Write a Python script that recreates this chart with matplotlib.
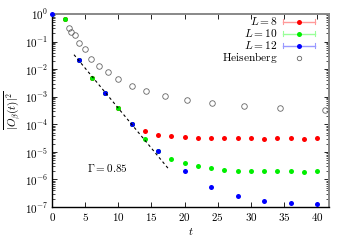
import numpy as np
import matplotlib
matplotlib.use("Agg")
import matplotlib.pyplot as plt

plt.rcParams['mathtext.fontset'] = 'cm'
plt.rcParams['font.family'] = 'serif'
plt.rcParams['font.serif'] = ['DejaVu Serif']

t_even = np.arange(0, 41, 2)
t_four = np.arange(0, 41, 4)

L8 = [1.0, 0.64, 0.021, 4.8e-3, 1.4e-3, 3.8e-4, 1.0e-4, 5.5e-5, 4.0e-5, 3.7e-5,
      3.4e-5, 3.3e-5, 3.3e-5, 3.15e-5, 3.2e-5, 3.2e-5, 3.0e-5, 3.1e-5, 3.2e-5, 2.95e-5, 3.1e-5]
L10 = [1.0, 0.64, 0.021, 4.8e-3, 1.4e-3, 3.8e-4, 1.0e-4, 2.95e-5, 1.1e-5, 5.7e-6,
       3.8e-6, 3.0e-6, 2.5e-6, 2.2e-6, 2.1e-6, 2.0e-6, 2.0e-6, 1.95e-6, 1.95e-6, 1.9e-6, 1.95e-6]
L12 = [1.0, 0.021, 1.4e-3, 1.0e-4, 1.1e-5, 2.0e-6, 5.2e-7, 2.5e-7, 1.7e-7, 1.35e-7, 1.27e-7]

heis_t = [2.5, 2.9, 3.5, 4.1, 5.0, 5.9, 7.1, 8.4, 10.0, 12.0, 14.2, 17.0, 20.3, 24.2, 28.9, 34.4, 41.2]
heis_y = [0.32, 0.22, 0.17, 0.087, 0.052, 0.023, 0.013, 7.8e-3, 4.3e-3, 2.5e-3,
          1.66e-3, 1.07e-3, 7.9e-4, 6.0e-4, 4.7e-4, 3.8e-4, 3.4e-4]

fit_t = [3.3, 17.6]
fit_log_intercept = -0.52
fit_log_slope = -0.29

labels = [r'$L=8$', r'$L=10$', r'$L=12$', r'$\mathrm{Heisenberg}$']
colors = ['#ff0000', '#00ee00', '#0000ff']
light_colors = ['#ff9999', '#99ff99', '#9999ff']
heis_color = '#666666'

fig = plt.figure(figsize=(3.5, 2.45), dpi=100)
ax = fig.add_axes([0.149, 0.155, 0.791, 0.788])

ms = 3.6
ax.plot(t_even, L8, 'o', color=colors[0], ms=ms, mec='none', zorder=3)
ax.plot(t_even, L10, 'o', color=colors[1], ms=ms, mec='none', zorder=4)
ax.plot(t_four, L12, 'o', color=colors[2], ms=ms, mec='none', zorder=5, clip_on=False)
ax.plot(heis_t, heis_y, 'o', mfc='none', mec=heis_color, mew=0.6, ms=4.0, zorder=2)

ft = np.array(fit_t)
ax.plot(ft, 10 ** (fit_log_intercept + fit_log_slope * ft), color='black',
        lw=0.8, dashes=(2.5, 2.5), zorder=6)

ax.text(8.3, 10 ** -5.57, r'$\Gamma=0.85$', fontsize=8, ha='center', va='center')

ax.set_yscale('log')
ax.set_ylim(1e-7, 1)
ax.set_xlim(0, 41.8)
ax.set_xticks(np.arange(0, 41, 5))
ax.set_xticklabels([r'$%d$' % v for v in np.arange(0, 41, 5)])
ax.set_yticks([10.0 ** k for k in range(-7, 1)])
ax.set_yticklabels([r'$10^{%d}$' % k for k in range(-7, 1)])
ax.tick_params(which='both', direction='in', top=True, right=True, labelsize=8, pad=3)
ax.tick_params(which='major', length=3.5, width=0.6)
ax.tick_params(which='minor', length=2, width=0.5)
ax.set_xlabel(r'$t$', fontsize=8, labelpad=2)
ax.set_ylabel(r'$\overline{|O_\beta(t)|^2}$', fontsize=8, labelpad=1)

for s in ['left', 'bottom']:
    ax.spines[s].set_color('black')
    ax.spines[s].set_linewidth(1.0)
for s in ['top', 'right']:
    ax.spines[s].set_color('#888888')
    ax.spines[s].set_linewidth(1.4)

# manual legend (gnuplot style: label on the left, sample on the right)
ax_h_px = 0.788 * 245
row0 = 0.96
row_step = 12.0 / ax_h_px
cap = 2.2 / ax_h_px
text_x = 0.815
h0, h1 = 0.833, 0.949
hm = (h0 + h1) / 2
for i, lab in enumerate(labels):
    yc = row0 - i * row_step
    ax.text(text_x, yc - 3.0 / ax_h_px, lab, transform=ax.transAxes, fontsize=8.2,
            ha='right', va='baseline')
    if i < 3:
        kw = dict(transform=ax.transAxes, clip_on=False, color=light_colors[i])
        ax.plot([h0, h1], [yc, yc], lw=1.0, **kw)
        ax.plot([h0, h0], [yc - cap, yc + cap], lw=0.8, **kw)
        ax.plot([h1, h1], [yc - cap, yc + cap], lw=0.8, **kw)
        ax.plot([hm], [yc], 'o', ms=ms, color=colors[i], mec='none',
                transform=ax.transAxes, clip_on=False)
    else:
        ax.plot([hm], [yc], 'o', ms=3.2, mfc='none', mec=heis_color, mew=0.6,
                transform=ax.transAxes, clip_on=False)

fig.savefig('out.png', dpi=100)
